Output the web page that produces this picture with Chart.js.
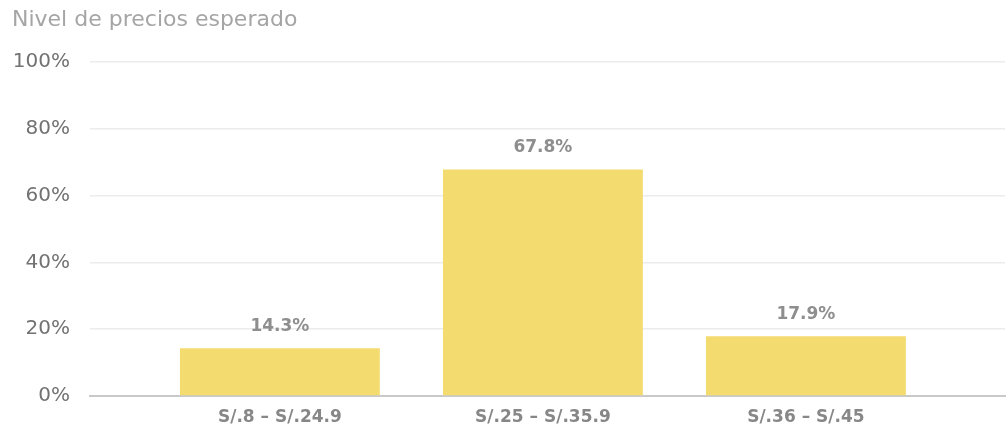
<!DOCTYPE html>
<html>
<head>
<meta charset="utf-8">
<script src="https://cdn.jsdelivr.net/npm/chart.js@4/dist/chart.umd.min.js"></script>
<style>
  html, body { margin: 0; padding: 0; background: #ffffff; }
  #wrap { width: 1007px; height: 435px; position: relative; }
</style>
</head>
<body>
<div id="wrap"><canvas id="c"></canvas></div>
<script>
// Price ranges and share of respondents per range (%)
const categories = ['S/.8 – S/.24.9', 'S/.25 – S/.35.9', 'S/.36 – S/.45'];
const shares = [14.3, 67.8, 17.9];
const shareLabels = ['14.3%', '67.8%', '17.9%'];
const yTicks = [0, 20, 40, 60, 80, 100];
const chartTitle = 'Nivel de precios esperado';

const FONT = "'DejaVu Sans', 'Noto Sans', sans-serif";

// Writes each percentage above its bar
const valueLabels = {
  id: 'valueLabels',
  afterDatasetsDraw(chart) {
    const ctx = chart.ctx;
    const meta = chart.getDatasetMeta(0);
    ctx.save();
    ctx.font = `bold 17px ${FONT}`;
    ctx.fillStyle = '#8e8e8e';
    ctx.textAlign = 'center';
    ctx.textBaseline = 'bottom';
    meta.data.forEach((bar, i) => {
      ctx.fillText(shareLabels[i], bar.x, bar.y - 13);
    });
    ctx.restore();
  }
};

new Chart(document.getElementById('c'), {
  type: 'bar',
  data: {
    datasets: [{
      data: shares.map((v, i) => ({ x: i, y: v })),
      backgroundColor: '#f3db6f',
      borderWidth: 0,
      barPercentage: 0.76,
      categoryPercentage: 1
    }]
  },
  options: {
    responsive: true,
    maintainAspectRatio: false,
    animation: false,
    layout: { padding: { left: 12, right: 2, top: 0, bottom: 0 } },
    plugins: {
      legend: { display: false },
      tooltip: { enabled: false },
      title: {
        display: true,
        text: chartTitle,
        align: 'start',
        color: '#a5a5a5',
        font: { family: FONT, size: 22, weight: 'normal' },
        padding: { top: 7, bottom: 28.6 }
      }
    },
    scales: {
      x: {
        type: 'linear',
        offset: false,
        bounds: 'data',
        min: -0.722,
        max: 2.757,
        afterBuildTicks(scale) {
          scale.ticks = categories.map((_, i) => ({ value: i }));
        },
        afterFit(scale) { scale.height = 39; },
        ticks: {
          callback: (v) => categories[v] ?? '',
          color: '#878787',
          font: { family: FONT, size: 17, weight: 'bold' },
          padding: 11,
          maxRotation: 0,
          autoSkip: false
        },
        grid: { display: false, drawTicks: false, offset: false },
        border: { display: true, color: '#c9c9c9', width: 2 }
      },
      y: {
        min: 0,
        max: 100,
        afterBuildTicks(scale) {
          scale.ticks = yTicks.map(v => ({ value: v }));
        },
        afterFit(scale) { scale.width = 78; },
        ticks: {
          callback: (v) => v + '%',
          color: '#727272',
          font: { family: FONT, size: 20 },
          padding: 20
        },
        grid: { color: '#ececec', lineWidth: 1.5, drawTicks: false },
        border: { display: false }
      }
    }
  },
  plugins: [valueLabels]
});
</script>
</body>
</html>
